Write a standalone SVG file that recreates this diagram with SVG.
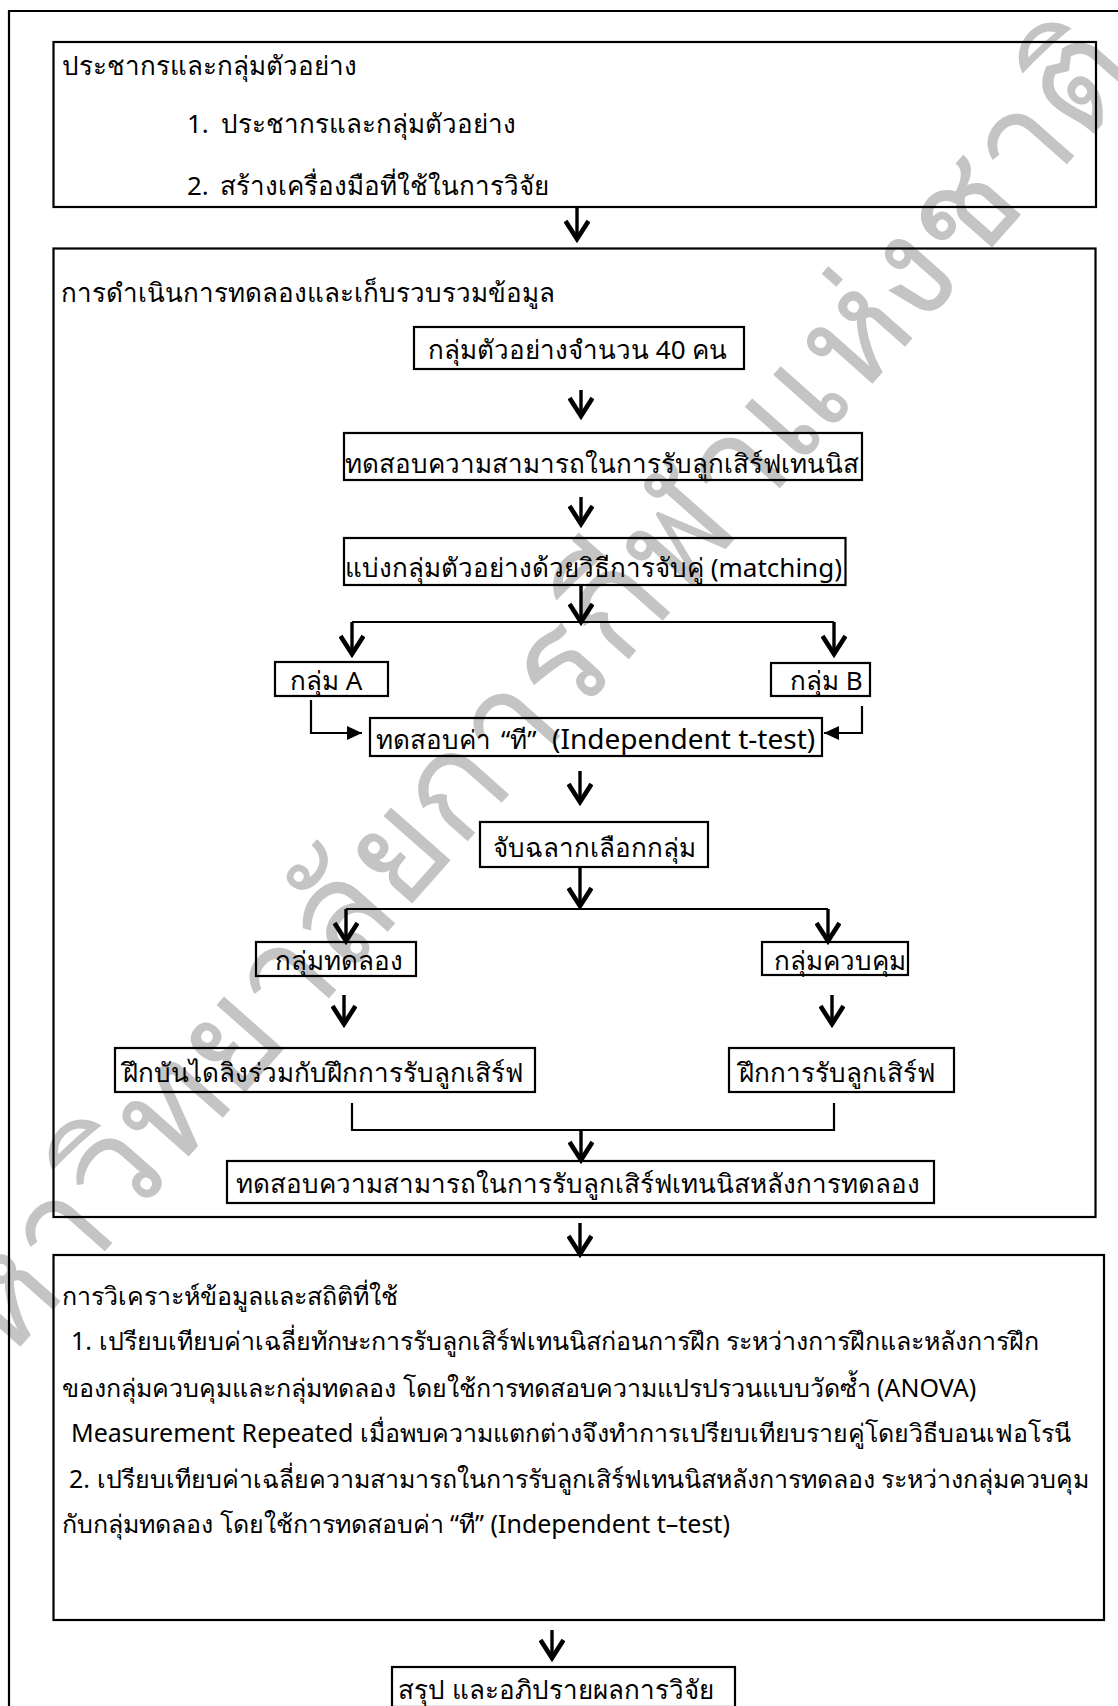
<svg xmlns="http://www.w3.org/2000/svg" width="1118" height="1706" viewBox="0 0 1118 1706">
<defs>
<style>
.frame{fill:none;stroke:#000;stroke-width:2.2}
.box{fill:none;stroke:#000;stroke-width:2.2}
.t{font-family:"Noto Sans","Liberation Sans",sans-serif;font-size:26px;fill:#000}
.p{font-family:"Noto Sans","Liberation Sans",sans-serif;font-size:25px;fill:#000}
.ln{fill:none;stroke:#000;stroke-width:2.2}
.ar{fill:none;stroke:#000;stroke-width:3.4;marker-end:url(#v)}
.ah{fill:none;stroke:#000;stroke-width:2.2;marker-end:url(#tri)}
.wm{font-family:"Noto Sans","Liberation Sans",sans-serif;font-size:143px;fill:#c4c4c4}
</style>
<marker id="v" viewBox="0 0 24 26" refX="20" refY="13" markerWidth="24" markerHeight="26" markerUnits="userSpaceOnUse" orient="auto">
<path d="M2,1.5 L20,13 L2,24.5" fill="none" stroke="#000" stroke-width="4.6"/>
</marker>
<marker id="tri" viewBox="0 0 15 14" refX="15" refY="7" markerWidth="15" markerHeight="14" markerUnits="userSpaceOnUse" orient="auto">
<path d="M0,0 L15,7 L0,14 Z" fill="#000"/>
</marker>
</defs>
<rect width="1118" height="1706" fill="#fff"/>
<g id="watermark">
<text class="wm" transform="translate(-57,1434) rotate(-48.5)">มหาวิทยาลัยการกีฬาแห่งชาติ</text>
</g>
<g id="frame">
<path class="frame" d="M9,1706 V11 H1118"/>
</g>
<g id="n-population">
<rect class="box" x="53.5" y="42" width="1042.5" height="165"/>
<text class="t" x="62" y="75">ประชากรและกลุ่มตัวอย่าง</text>
<text class="t" x="187" y="133">1.</text>
<text class="t" x="221" y="133">ประชากรและกลุ่มตัวอย่าง</text>
<text class="t" x="187" y="195">2.</text>
<text class="t" x="220" y="195">สร้างเครื่องมือที่ใช้ในการวิจัย</text>
</g>
<g id="n-experiment">
<rect class="box" x="53.5" y="248.5" width="1042" height="968.5"/>
<text class="t" x="61" y="302">การดำเนินการทดลองและเก็บรวบรวมข้อมูล</text>
</g>
<g id="n-sample40">
<rect class="box" x="414" y="327" width="330" height="42"/>
<text class="t" x="428" y="359">กลุ่มตัวอย่างจำนวน 40 คน</text>
</g>
<g id="n-pretest">
<rect class="box" x="344" y="433" width="518" height="47"/>
<text class="t" x="345" y="473">ทดสอบความสามารถในการรับลูกเสิร์ฟเทนนิส</text>
</g>
<g id="n-matching">
<rect class="box" x="344" y="538" width="501.5" height="47"/>
<text class="t" x="345" y="577">แบ่งกลุ่มตัวอย่างด้วยวิธีการจับคู่ (matching)</text>
</g>
<g id="n-groupA">
<rect class="box" x="275" y="662" width="113" height="34"/>
<text class="t" x="290" y="690">กลุ่ม A</text>
</g>
<g id="n-groupB">
<rect class="box" x="771" y="663" width="99" height="33"/>
<text class="t" x="790" y="690">กลุ่ม B</text>
</g>
<g id="n-ttest">
<rect class="box" x="370" y="718" width="452" height="38"/>
<text class="t" x="376" y="749">ทดสอบค่า <tspan x="501">“ที”</tspan> <tspan x="552" style="font-size:28px">(Independent t-test)</tspan></text>
</g>
<g id="n-lottery">
<rect class="box" x="480" y="822" width="228" height="45"/>
<text class="t" x="493" y="857">จับฉลากเลือกกลุ่ม</text>
</g>
<g id="n-exp-group">
<rect class="box" x="256" y="942" width="160" height="34"/>
<text class="t" x="275" y="970">กลุ่มทดลอง</text>
</g>
<g id="n-ctrl-group">
<rect class="box" x="762" y="942" width="146" height="33"/>
<text class="t" x="774" y="970">กลุ่มควบคุม</text>
</g>
<g id="n-exp-train">
<rect class="box" x="115" y="1048" width="420" height="44"/>
<text class="t" x="123" y="1082">ฝึกบันไดลิงร่วมกับฝึกการรับลูกเสิร์ฟ</text>
</g>
<g id="n-ctrl-train">
<rect class="box" x="729" y="1048" width="225" height="44"/>
<text class="t" x="739" y="1082">ฝึกการรับลูกเสิร์ฟ</text>
</g>
<g id="n-posttest">
<rect class="box" x="227" y="1161" width="707" height="42"/>
<text class="t" x="236" y="1193">ทดสอบความสามารถในการรับลูกเสิร์ฟเทนนิสหลังการทดลอง</text>
</g>
<g id="n-analysis">
<rect class="box" x="53.5" y="1255" width="1050.5" height="365"/>
<text class="p" x="62" y="1305">การวิเคราะห์ข้อมูลและสถิติที่ใช้</text>
<text class="p" x="71" y="1350">1. เปรียบเทียบค่าเฉลี่ยทักษะการรับลูกเสิร์ฟเทนนิสก่อนการฝึก ระหว่างการฝึกและหลังการฝึก</text>
<text class="p" x="62" y="1397">ของกลุ่มควบคุมและกลุ่มทดลอง โดยใช้การทดสอบความแปรปรวนแบบวัดซ้ำ (ANOVA)</text>
<text class="p" x="71" y="1442">Measurement Repeated เมื่อพบความแตกต่างจึงทำการเปรียบเทียบรายคู่โดยวิธีบอนเฟอโรนี</text>
<text class="p" x="69" y="1488">2. เปรียบเทียบค่าเฉลี่ยความสามารถในการรับลูกเสิร์ฟเทนนิสหลังการทดลอง ระหว่างกลุ่มควบคุม</text>
<text class="p" x="62" y="1533">กับกลุ่มทดลอง โดยใช้การทดสอบค่า “ที” (Independent t–test)</text>
</g>
<g id="n-conclusion">
<rect class="box" x="392" y="1667" width="343" height="40"/>
<text class="t" x="398" y="1699">สรุป และอภิปรายผลการวิจัย</text>
</g>
<g id="connectors">
<path class="ar" d="M577,208 V239"/>
<path class="ar" d="M581,390 V416"/>
<path class="ar" d="M581,497 V524"/>
<path class="ar" d="M581,585 V622"/>
<path class="ln" d="M352,622 H834"/>
<path class="ar" d="M352,622 V654"/>
<path class="ar" d="M834,622 V654"/>
<path class="ah" d="M311,700 V733 H362"/>
<path class="ah" d="M862,706 V733 H824"/>
<path class="ar" d="M580,771 V802"/>
<path class="ar" d="M580,867 V906"/>
<path class="ln" d="M346,909 H828"/>
<path class="ar" d="M346,909 V941"/>
<path class="ar" d="M828,909 V941"/>
<path class="ar" d="M344,995 V1024"/>
<path class="ar" d="M832,995 V1024"/>
<path class="ln" d="M352,1103 V1130 H834 V1103"/>
<path class="ar" d="M581,1130 V1160"/>
<path class="ar" d="M580,1223 V1254"/>
<path class="ar" d="M552,1630 V1658"/>
</g>
</svg>
